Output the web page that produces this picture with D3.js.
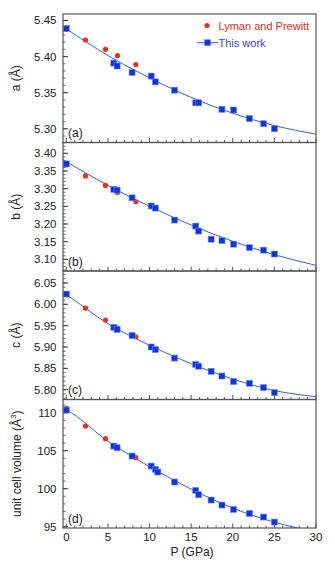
<!DOCTYPE html>
<html>
<head>
<meta charset="utf-8">
<script src="https://cdn.jsdelivr.net/npm/d3@7"></script>
<style>
  html, body { margin: 0; padding: 0; background: #fff; }
  svg { display: block; font-family: "Liberation Sans", Arial, sans-serif; }
</style>
</head>
<body>
<div id="chart"></div>
<script>
// ---------- Data ----------
// pressures of "This work" points (GPa); null = no point in that panel
const pressure = [0, 5.7, 6.1, 7.9, 10.2, 10.7, 11.0, 13.0, 15.55, 15.9, 17.4, 18.7, 20.1, 22.0, 23.7, 25.0];
const aThis = [5.439, 5.391, 5.387, 5.378, 5.373, 5.365, null, 5.3535, 5.336, 5.336, null, 5.327, 5.326, 5.314, 5.307, 5.300];
const bThis = [3.370, 3.298, 3.296, 3.274, 3.251, 3.245, null, 3.211, 3.194, 3.180, 3.157, 3.153, 3.143, 3.133, 3.126, 3.115];
const cThis = [6.024, 5.946, 5.941, 5.927, 5.900, 5.894, null, 5.874, 5.859, 5.855, 5.843, 5.832, 5.819, 5.815, 5.805, 5.793];
const vThis = [110.35, 105.61, 105.39, 104.30, 102.98, 102.54, 102.19, 100.88, 99.78, 99.21, 98.51, 97.85, 97.28, 96.75, 96.27, 95.61];

// Lyman and Prewitt
const lymanP = [0, 2.3, 4.7, 6.15, 8.35];
const lymanA = [5.438, 5.423, 5.410, 5.4015, 5.389];
const lymanB = [3.367, 3.336, 3.309, 3.289, 3.263];
const lymanC = [6.024, 5.991, 5.963, 5.945, 5.924];
const lymanV = [110.57, 108.25, 106.58, 105.39, 104.08];

// fitted curves
const fitP = [-0.4, 0, 5, 10, 15, 20, 25, 30];
const fitA = [5.4416, 5.4385, 5.4015, 5.3705, 5.3435, 5.3215, 5.3045, 5.2925];
const fitB = [3.382, 3.3764, 3.309, 3.250, 3.197, 3.151, 3.113, 3.083];
const fitC = [6.028, 6.0227, 5.9547, 5.904, 5.861, 5.825, 5.798, 5.7836];
const fitV = [110.55, 110.35, 106.25, 102.9, 99.95, 97.45, 95.6, 94.3];

const xTicks = [0, 5, 10, 15, 20, 25, 30];

const panels = [
  { id: 'a', title: 'a (Å)', domain: [5.281, 5.459], ticks: [5.30, 5.35, 5.40, 5.45], minor: 0.01, fmt: '.2f', pts: aThis, lyman: lymanA, fit: fitA },
  { id: 'b', title: 'b (Å)', domain: [3.067, 3.4306], ticks: [3.10, 3.15, 3.20, 3.25, 3.30, 3.35, 3.40], minor: 0.01, fmt: '.2f', pts: bThis, lyman: lymanB, fit: fitB },
  { id: 'c', title: 'c (Å)', domain: [5.777, 6.078], ticks: [5.80, 5.85, 5.90, 5.95, 6.00, 6.05], minor: 0.01, fmt: '.2f', pts: cThis, lyman: lymanC, fit: fitC },
  { id: 'd', title: 'unit cell volume (Å', domain: [94.83, 111.74], ticks: [95, 100, 105, 110], minor: 1, fmt: 'd', pts: vThis, lyman: lymanV, fit: fitV }
];

// ---------- Layout ----------
const W = 335, H = 565;
const plotL = 63, plotR = 316, plotT = 14, panelH = 128.5;
const RED = '#e8301a', BLUE = '#0a35e0', LINE = '#3a5ce8';

const svg = d3.select('#chart').append('svg')
  .attr('width', W).attr('height', H);

const x = d3.scaleLinear().domain([-0.4, 30]).range([plotL, plotR]);
const xMinor = d3.range(0, 31, 1);

panels.forEach((p, i) => {
  const y0 = plotT + i * panelH, y1 = y0 + panelH;
  const y = d3.scaleLinear().domain(p.domain).range([y1, y0]);
  const g = svg.append('g');

  g.append('clipPath').attr('id', 'clip-' + p.id)
    .append('rect').attr('x', plotL).attr('y', y0).attr('width', plotR - plotL).attr('height', panelH);

  // y ticks, inward
  const minorVals = d3.range(Math.ceil(p.domain[0] / p.minor), Math.floor(p.domain[1] / p.minor) + 1)
    .map(k => k * p.minor);
  g.selectAll('.ymin').data(minorVals).join('line')
    .attr('x1', plotL).attr('x2', plotL + 2.5)
    .attr('y1', d => y(d)).attr('y2', d => y(d))
    .attr('stroke', '#444').attr('stroke-width', 0.8);
  g.selectAll('.ymaj').data(p.ticks).join('line')
    .attr('x1', plotL).attr('x2', plotL + 5)
    .attr('y1', d => y(d)).attr('y2', d => y(d))
    .attr('stroke', '#333').attr('stroke-width', 1);
  g.selectAll('.ylab').data(p.ticks).join('text')
    .attr('x', plotL - 6.5).attr('y', d => y(d) + 4)
    .attr('text-anchor', 'end').attr('font-size', 11.5).attr('fill', '#222')
    .text(d => d3.format(p.fmt)(d));

  // x ticks along bottom, inward
  g.selectAll('.xmin').data(xMinor).join('line')
    .attr('x1', d => x(d)).attr('x2', d => x(d))
    .attr('y1', y1).attr('y2', d => y1 - (d % 5 === 0 ? 4.5 : 2.5))
    .attr('stroke', '#444').attr('stroke-width', 0.9);

  // fit curve
  const line = d3.line().x((d, k) => x(fitP[k])).y(d => y(d)).curve(d3.curveMonotoneX);
  g.append('path').datum(p.fit)
    .attr('d', line)
    .attr('fill', 'none').attr('stroke', LINE).attr('stroke-width', 1)
    .attr('clip-path', `url(#clip-${p.id})`);

  // Lyman and Prewitt circles
  g.selectAll('.lym').data(p.lyman).join('circle')
    .attr('cx', (d, k) => x(lymanP[k])).attr('cy', d => y(d))
    .attr('r', 2.6).attr('fill', RED);

  // this work squares
  const sq = 6;
  g.selectAll('.tw').data(p.pts.map((v, k) => [pressure[k], v]).filter(d => d[1] != null)).join('rect')
    .attr('x', d => x(d[0]) - sq / 2).attr('y', d => y(d[1]) - sq / 2)
    .attr('width', sq).attr('height', sq)
    .attr('fill', BLUE).attr('stroke', '#6f88f0').attr('stroke-width', 0.6);

  // frame
  g.append('rect').attr('x', plotL).attr('y', y0).attr('width', plotR - plotL).attr('height', panelH)
    .attr('fill', 'none').attr('stroke', '#555').attr('stroke-width', 1.2);

  // panel letter
  g.append('text').attr('x', plotL + 5).attr('y', y1 - 5.5)
    .attr('font-size', 12).attr('fill', '#222').text(`(${p.id})`);

  // y title
  const t = g.append('text')
    .attr('transform', `translate(${p.id === 'd' ? 20.5 : 19.5},${y0 + panelH / 2}) rotate(-90)`)
    .attr('text-anchor', 'middle').attr('font-size', 12).attr('fill', '#222');
  t.append('tspan').text(p.title);
  if (p.id === 'd') {
    t.append('tspan').attr('font-size', 8).attr('dy', -5).text('3');
    t.append('tspan').attr('dy', 5).text(')');
  }
});

// x tick labels & title
const plotB = plotT + 4 * panelH;
svg.selectAll('.xlab').data(xTicks).join('text')
  .attr('x', d => x(d)).attr('y', plotB + 13)
  .attr('text-anchor', 'middle').attr('font-size', 11.5).attr('fill', '#222')
  .text(d => d);
svg.append('text').attr('x', 192).attr('y', plotB + 28)
  .attr('text-anchor', 'middle').attr('font-size', 12).attr('fill', '#222')
  .text('P (GPa)');

// ---------- Legend ----------
const lg = svg.append('g');
lg.append('circle').attr('cx', 207).attr('cy', 25.5).attr('r', 2.6).attr('fill', RED);
lg.append('text').attr('x', 218.5).attr('y', 29.5).attr('font-size', 11).attr('fill', RED)
  .text('Lyman and Prewitt');
lg.append('line').attr('x1', 197).attr('x2', 218).attr('y1', 42.7).attr('y2', 42.7)
  .attr('stroke', LINE).attr('stroke-width', 1);
lg.append('rect').attr('x', 204.5).attr('y', 39.7).attr('width', 6).attr('height', 6)
  .attr('fill', BLUE).attr('stroke', '#6f88f0').attr('stroke-width', 0.6);
lg.append('text').attr('x', 218.5).attr('y', 46.7).attr('font-size', 11).attr('fill', '#2a48d8')
  .text('This work');
</script>
</body>
</html>
